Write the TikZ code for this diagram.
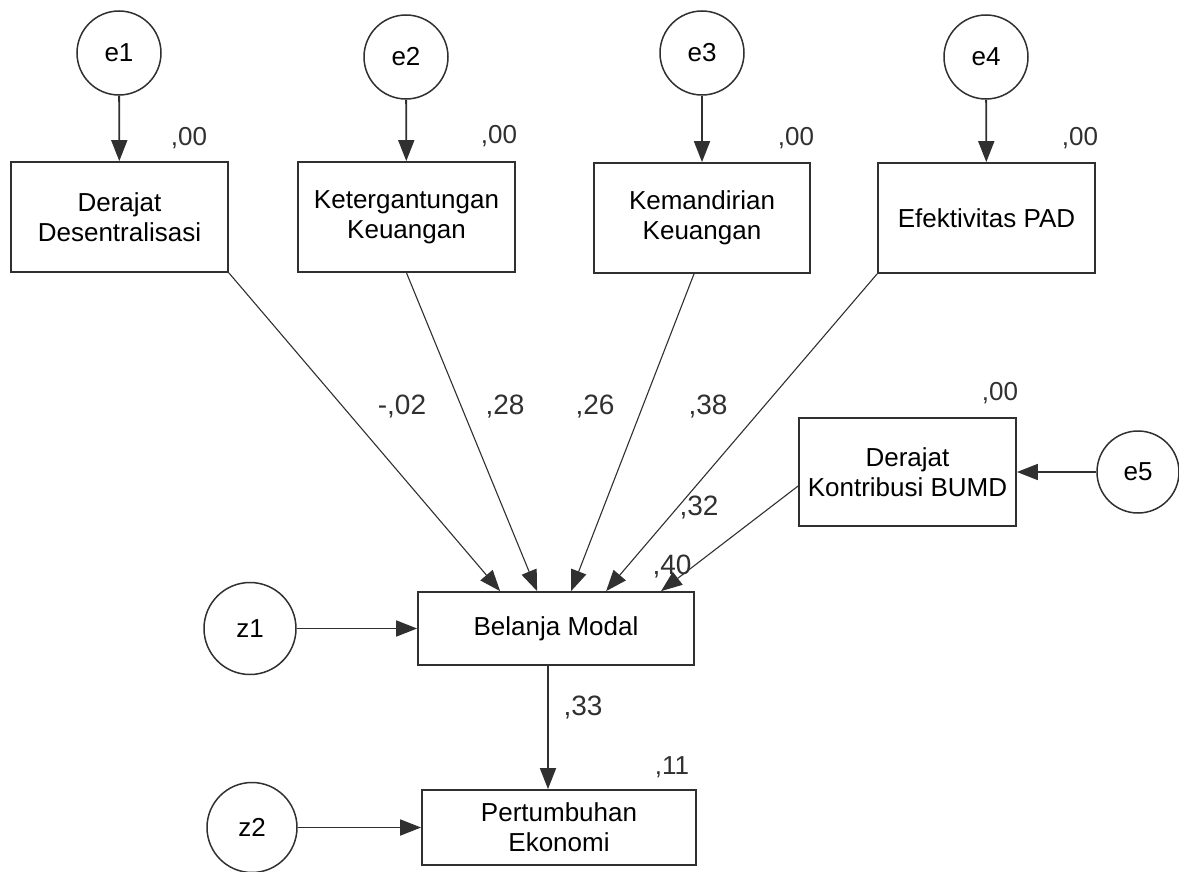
\documentclass[tikz,border=0pt]{standalone}
\usepackage{fontspec}
\setmainfont{Liberation Sans}
\usepackage{tikz}
\usetikzlibrary{arrows.meta}
\definecolor{lineGray}{HTML}{303030}
\tikzset{
errCirc/.style={draw=lineGray,circle,line width=1.5pt,minimum size=84pt,inner sep=0pt,font=\fontsize{26}{30}\selectfont},
varBox/.style={draw=lineGray,rectangle,line width=1.8pt,inner sep=0pt,align=center,font=\fontsize{26}{30}\selectfont},
estLabel/.style={inner sep=0pt,text=lineGray,font=\fontsize{26}{30}\selectfont},
pathLabel/.style={inner sep=0pt,text=lineGray,font=\fontsize{28}{32}\selectfont},
errArrow/.style={draw=lineGray,line width=1.8pt,-{Triangle[length=21pt,width=16pt]}},
pathArrow/.style={draw=lineGray,line width=1.1pt,-{Triangle[length=21pt,width=16pt]}}
}
\begin{document}
\begin{tikzpicture}[x=1pt,y=-1pt]
\useasboundingbox (0,0) rectangle (1179,872);
% error terms
\node[errCirc] (e1) at (119,53) {e1};
\node[errCirc] (e2) at (406,57) {e2};
\node[errCirc] (e3) at (702,53) {e3};
\node[errCirc] (e4) at (986,57) {e4};
\node[errCirc,minimum size=82pt] (e5) at (1138,472) {e5};
\node[errCirc,minimum size=92pt] (z1) at (250,628.5) {z1};
\node[errCirc,minimum size=90pt] (z2) at (252,827.5) {z2};
% observed variables
\node[varBox,minimum width=217pt,minimum height=110pt] (dd) at (119.5,217) {Derajat\\Desentralisasi};
\node[varBox,minimum width=217pt,minimum height=110pt] (kg) at (406.5,217) {Ketergantungan\\Keuangan};
\node[varBox,minimum width=216pt,minimum height=110pt] (km) at (702,218) {Kemandirian\\Keuangan};
\node[varBox,minimum width=217pt,minimum height=110pt] (ep) at (986.5,218) {Efektivitas PAD};
\node[varBox,minimum width=217pt,minimum height=108pt] (bumd) at (907.5,472) {Derajat\\Kontribusi BUMD};
\node[varBox,minimum width=276pt,minimum height=73pt] (bm) at (556,628.5) {Belanja Modal};
\node[varBox,minimum width=274pt,minimum height=75pt] (pe) at (559,827.5) {Pertumbuhan\\Ekonomi};
% squared multiple correlations
\node[estLabel] (r1) at (189,138) {,00};
\node[estLabel] (r2) at (499,136) {,00};
\node[estLabel] (r3) at (796,138) {,00};
\node[estLabel] (r4) at (1080,138) {,00};
\node[estLabel] (r5) at (1000,393) {,00};
\node[estLabel] (r7) at (672,767) {,11};
% arrows
\draw[errArrow] (e1) -- (dd);
\draw[errArrow] (e2) -- (kg);
\draw[errArrow] (e3) -- (km);
\draw[errArrow] (e4) -- (ep);
\draw[errArrow] (e5) -- (bumd);
\draw[errArrow] (z1) -- (bm);
\draw[errArrow] (z2) -- (pe);
\draw[pathArrow] (dd.south east) -- ([xshift=83pt]bm.north west);
\draw[pathArrow] (kg.south) -- ([xshift=120pt]bm.north west);
\draw[pathArrow] ([xshift=-8pt]km.south) -- ([xshift=154pt]bm.north west);
\draw[pathArrow] (ep.south west) -- ([xshift=189pt]bm.north west);
\draw[pathArrow] ([yshift=-14pt]bumd.west) -- ([xshift=244pt]bm.north west);
\draw[errArrow] ([xshift=-8pt]bm.south) -- ([xshift=-11pt]pe.north);
% path coefficients
\node[pathLabel] (p1) at (402,407) {-,02};
\node[pathLabel] (p2) at (505,407) {,28};
\node[pathLabel] (p3) at (595,407) {,26};
\node[pathLabel] (p4) at (708,407) {,38};
\node[pathLabel] (p5) at (699,508) {,32};
\node[pathLabel] (p6) at (672,567) {,40};
\node[pathLabel] (p7) at (583,708) {,33};
\end{tikzpicture}
\end{document}
